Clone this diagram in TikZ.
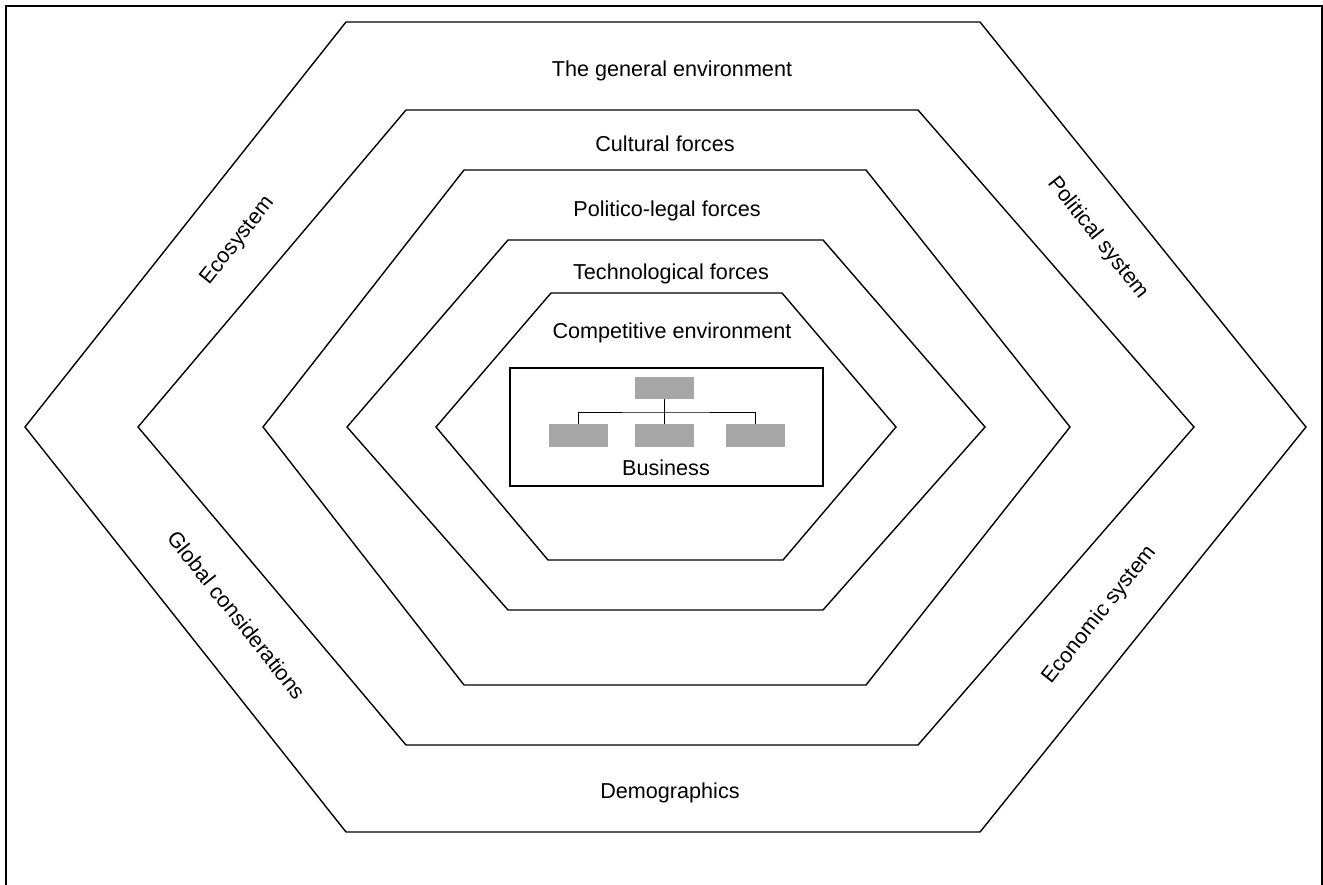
\documentclass[tikz,border=0pt]{standalone}
\usepackage{fontspec}
\setmainfont{Liberation Sans}
\definecolor{boxgray}{RGB}{166,166,166}
\begin{document}
\begin{tikzpicture}[x=1pt,y=-1pt,
  hexline/.style={line width=1.4pt, line join=miter},
  lbl/.style={font=\fontsize{21.6}{26}\selectfont, inner sep=0pt},
  orgbox/.style={fill=boxgray, draw=none, minimum width=59pt, minimum height=22.5pt, inner sep=0pt},
  orgline/.style={line width=1pt}]
\useasboundingbox (0,0) rectangle (1323,885);
% frame
\draw[line width=2pt] (6,900) -- (6,6) -- (1322,6) -- (1322,900);
% hexagons
\draw[hexline] (346,22) -- (980,22) -- (1306,427) -- (980,832) -- (346,832) -- (25,427) -- cycle;
\draw[hexline] (406,110) -- (918,110) -- (1194,427) -- (918,745) -- (406,745) -- (138,427) -- cycle;
\draw[hexline] (464,170) -- (866,170) -- (1070,427) -- (866,685) -- (464,685) -- (263,427) -- cycle;
\draw[hexline] (508,240) -- (823,240) -- (985,427) -- (823,610) -- (508,610) -- (347,427) -- cycle;
\draw[hexline] (551,293) -- (782,293) -- (896,427) -- (783,560) -- (548,560) -- (436,427) -- cycle;
% labels
\node[lbl, anchor=base] (gen) at (672,77) {The general environment};
\node[lbl, anchor=base] (cul) at (665,152) {Cultural forces};
\node[lbl, anchor=base] (pol) at (667,217) {Politico-legal forces};
\node[lbl, anchor=base] (tec) at (671,280) {Technological forces};
\node[lbl, anchor=base] (com) at (672,338) {Competitive environment};
\node[lbl, anchor=base] (dem) at (670,798) {Demographics};
\node[lbl, rotate=51.6] (eco) at (238,241) {Ecosystem};
\node[lbl, rotate=-51.6] (psys) at (1098,238) {Political system};
\node[lbl, rotate=-51.6] (glob) at (237,615) {Global considerations};
\node[lbl, rotate=51.6] (esys) at (1100,615) {Economic system};
% business box
\draw[line width=1.5pt] (510,368) rectangle (823,486);
\node[orgbox] (top) at (664.5,388) {};
\node[orgbox] (left) at (578,435.5) {};
\node[orgbox] (mid) at (664.5,435.5) {};
\node[orgbox] (right) at (755,435.5) {};
\coordinate (bus) at (664.5,412);
\draw[orgline] (top.south) -- (mid.north);
\draw[orgline] (left.north) |- (bus) -| (right.north);
\node[lbl, anchor=base] (bus-lbl) at (666,475) {Business};
\end{tikzpicture}
\end{document}
